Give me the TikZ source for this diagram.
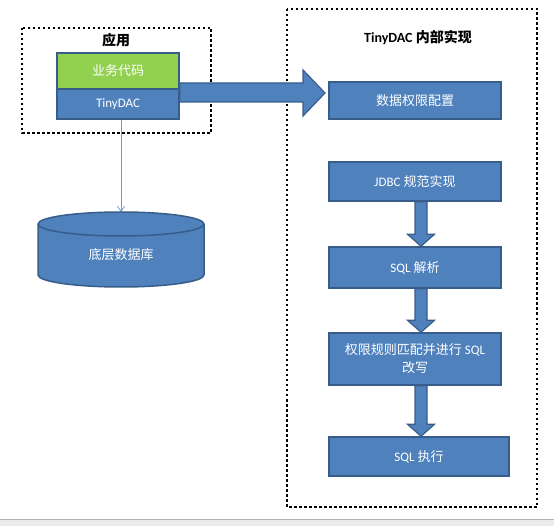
\documentclass[tikz,border=0pt]{standalone}
\usepackage{fontspec}
\setmainfont{Noto Sans CJK SC}
\newfontfamily\latin{Carlito}
\usetikzlibrary{arrows.meta,calc}
\definecolor{boxblue}{HTML}{4F81BD}
\definecolor{edgeblue}{HTML}{385D8A}
\definecolor{codegreen}{HTML}{92D050}
\tikzset{
  dotbox/.style={draw, line width=2.5pt, dash pattern=on 2.5pt off 2.5pt},
  stepbox/.style={draw=edgeblue, fill=boxblue, line width=1.5pt, text=white, inner sep=2pt,
    minimum width=172pt, align=center, font=\fontsize{13}{18}\selectfont},
  blockarrow/.style={draw=edgeblue, fill=boxblue, line width=1.2pt, line join=miter},
  boxtitle/.style={font=\fontsize{14}{16}\selectfont\bfseries}
}
% block arrow going down from one step to the next
\newcommand\stepdown[2]{%
  \path[blockarrow] let \p1=($(#1.south)+(6,0)$), \p2=(#2.north) in
    (\x1-6pt,\y1) -- (\x1+6pt,\y1) -- (\x1+6pt,\y2+12pt) -- (\x1+13.5pt,\y2+12pt)
    -- (\x1,\y2) -- (\x1-13.5pt,\y2+12pt) -- (\x1-6pt,\y2+12pt) -- cycle;}
\begin{document}
\begin{tikzpicture}[x=1pt, y=-1pt]
  \useasboundingbox (0,0) rectangle (554,526);
  % window bar
  \fill[gray!15] (0,519) rectangle (554,526);
  \draw[gray!60] (0,519) -- (554,519);

  % left: application
  \draw[dotbox] (22,28) rectangle (211,133);
  \node[boxtitle] (apptitle) at (116,40) {应用};
  \node[stepbox, fill=codegreen, minimum width=122pt, minimum height=36pt] (code) at (118,71) {业务代码};
  \node[stepbox, minimum width=122pt, minimum height=30pt] (tdac) at (118,104) {\latin TinyDAC};

  % database
  \coordinate (dbtop) at (121,212);
  \draw[edgeblue, fill=boxblue, line width=1.5pt] (38,224) -- (38,275)
    arc[start angle=180, end angle=0, x radius=83, y radius=12] -- (204,224)
    arc[start angle=0, end angle=-180, x radius=83, y radius=12] -- cycle;
  \draw[edgeblue, line width=1.5pt] (38,224) arc[start angle=180, end angle=0, x radius=83, y radius=12];
  \node[text=white, font=\fontsize{13}{16}\selectfont] (db) at (121,255) {底层数据库};
  \draw[boxblue!80, line width=0.8pt, -{Straight Barb[length=5pt,width=7pt]}] (tdac.south -| dbtop) -- (dbtop);

  % right: inside TinyDAC
  \draw[dotbox] (287,9) rectangle (537,507);
  \node[boxtitle] (intitle) at (418,38) {{\latin TinyDAC} 内部实现};
  \node[stepbox, minimum height=37pt] (cfg) at (415,100.5) {数据权限配置};
  \node[stepbox, minimum height=39pt] (jdbc) at (415,181.5) {{\latin JDBC} 规范实现};
  \node[stepbox, minimum height=41pt] (parse) at (415,267.5) {{\latin SQL} 解析};
  \node[stepbox, minimum height=52pt] (rewrite) at (415,359) {权限规则匹配并进行 {\latin SQL}\\改写};
  \node[stepbox, minimum width=180pt, minimum height=39pt] (exec) at (419,456.5) {{\latin SQL} 执行};

  % arrows
  \path[blockarrow] (tdac.east |- 0,83) -- (303,83) -- (303,70) -- (325,93)
    -- (303,116) -- (303,102) -- (tdac.east |- 0,102) -- cycle;
  \stepdown{jdbc}{parse}
  \stepdown{parse}{rewrite}
  \stepdown{rewrite}{exec}
\end{tikzpicture}
\end{document}
